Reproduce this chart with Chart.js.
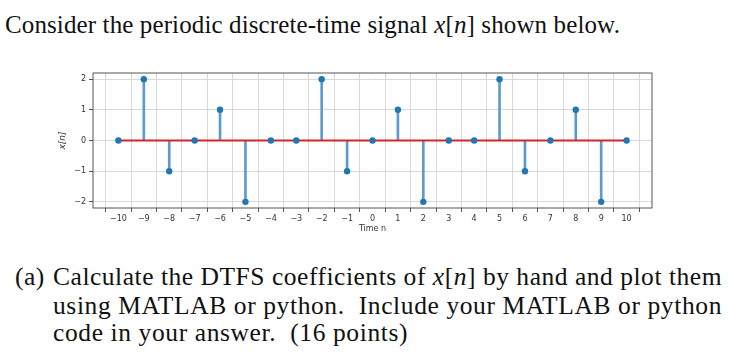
<!DOCTYPE html>
<html><head><meta charset="utf-8">
<script src="https://cdn.jsdelivr.net/npm/chart.js@4/dist/chart.umd.min.js"></script>
<style>
html,body{margin:0;padding:0;background:#fff;width:735px;height:359px;overflow:hidden;}
.t{position:absolute;font-family:"Liberation Serif",serif;color:#111;white-space:nowrap;line-height:1;display:inline-block;}
#c{position:absolute;left:0;top:60px;}
</style></head><body>
<div class="t" id="l0" data-w="615" style="left:5px;top:12.4px;font-size:25px;">Consider the periodic discrete-time signal <i>x</i>[<i>n</i>] shown below.</div>
<div class="t" id="la" style="left:15px;top:264.3px;font-size:25.5px;">(a)</div>
<div class="t" id="l1" data-w="669" style="left:53px;top:264.3px;font-size:25.5px;">Calculate the DTFS coefficients of <i>x</i>[<i>n</i>] by hand and plot them</div>
<div class="t" id="l2" data-w="669" style="left:53px;top:292.6px;font-size:25.5px;">using MATLAB or python.&nbsp; Include your MATLAB or python</div>
<div class="t" id="l3" style="left:53px;top:320.3px;font-size:25.5px;">code in your answer.&nbsp; (16 points)</div>
<canvas id="c" width="735" height="180"></canvas>
<script>
function fit(el){
  const target = parseFloat(el.dataset.w);
  el.style.letterSpacing = '0px';
  const w = el.getBoundingClientRect().width;
  const n = el.textContent.length;
  const ls = (target - w) / n;
  el.style.letterSpacing = ls + 'px';
  return ls;
}
fit(document.getElementById('l0'));
const ls1 = fit(document.getElementById('l1'));
const ls2 = fit(document.getElementById('l2'));
document.getElementById('l3').style.letterSpacing = ls2 + 'px';
document.getElementById('la').style.letterSpacing = ls1 + 'px';

const nValues = [-10,-9,-8,-7,-6,-5,-4,-3,-2,-1,0,1,2,3,4,5,6,7,8,9,10];
const xValues = [0,2,-1,0,1,-2,0,0,2,-1,0,1,-2,0,0,2,-1,0,1,-2,0];
const xTickValues = [-10,-9,-8,-7,-6,-5,-4,-3,-2,-1,0,1,2,3,4,5,6,7,8,9,10];
const yTickValues = [-2,-1,0,1,2];
const baselineN = [-10, 10];

const stemData = nValues.map((n,i)=>({x:n, y:[0, xValues[i]]}));
const markerData = nValues.map((n,i)=>({x:n, y:xValues[i]}));
const baseData = baselineN.map(n=>({x:n, y:0}));
const fmt = v => (v < 0 ? '\u2212' + Math.abs(v) : String(v));

const boxPlugin = {
  id:'box',
  afterDraw(chart){
    const {ctx, chartArea:a} = chart;
    ctx.save();
    ctx.strokeStyle = '#555';
    ctx.lineWidth = 1;
    ctx.strokeRect(a.left, a.top, a.right - a.left, a.bottom - a.top);
    ctx.restore();
  }
};

const tickFont = {family:'DejaVu Sans', size:8};
new Chart(document.getElementById('c'), {
  type:'bar',
  data:{datasets:[
    {type:'bar', data:stemData, backgroundColor:'#5b9bd0', barThickness:2, borderWidth:0, order:3},
    {type:'line', data:baseData, borderColor:'#d62728', borderWidth:2, pointRadius:0, order:2},
    {type:'scatter', data:markerData, backgroundColor:'#1f77b4', borderColor:'#1f77b4', pointRadius:3.2, borderWidth:0, order:1}
  ]},
  options:{
    responsive:false, animation:false, devicePixelRatio:1,
    layout:{padding:{left:57.6, right:83, top:13, bottom:6}},
    plugins:{legend:{display:false}, tooltip:{enabled:false}},
    scales:{
      x:{type:'linear', min:-11, max:11, offset:false,
        afterBuildTicks:s=>{ s.ticks = xTickValues.map(v=>({value:v})); },
        afterFit:s=>{ s.height = 26; },
        ticks:{callback:fmt, font:tickFont, color:'#333', padding:2, maxRotation:0, autoSkip:false},
        grid:{color:'#d8d8d8', lineWidth:1, tickLength:4, tickColor:'#555'},
        border:{display:false},
        title:{display:true, text:'Time n', font:tickFont, color:'#333', padding:{top:0,bottom:0}}
      },
      y:{type:'linear', min:-2.2, max:2.2,
        afterBuildTicks:s=>{ s.ticks = yTickValues.map(v=>({value:v})); },
        afterFit:s=>{ s.width = 35.4; },
        ticks:{callback:fmt, font:tickFont, color:'#333', padding:3},
        grid:{color:'#d8d8d8', lineWidth:1, tickLength:4, tickColor:'#555'},
        border:{display:false},
        title:{display:true, text:'x[n]', font:{family:'DejaVu Sans', size:9, style:'italic'}, color:'#333', padding:0}
      }
    }
  },
  plugins:[boxPlugin]
});
</script>
</body></html>
